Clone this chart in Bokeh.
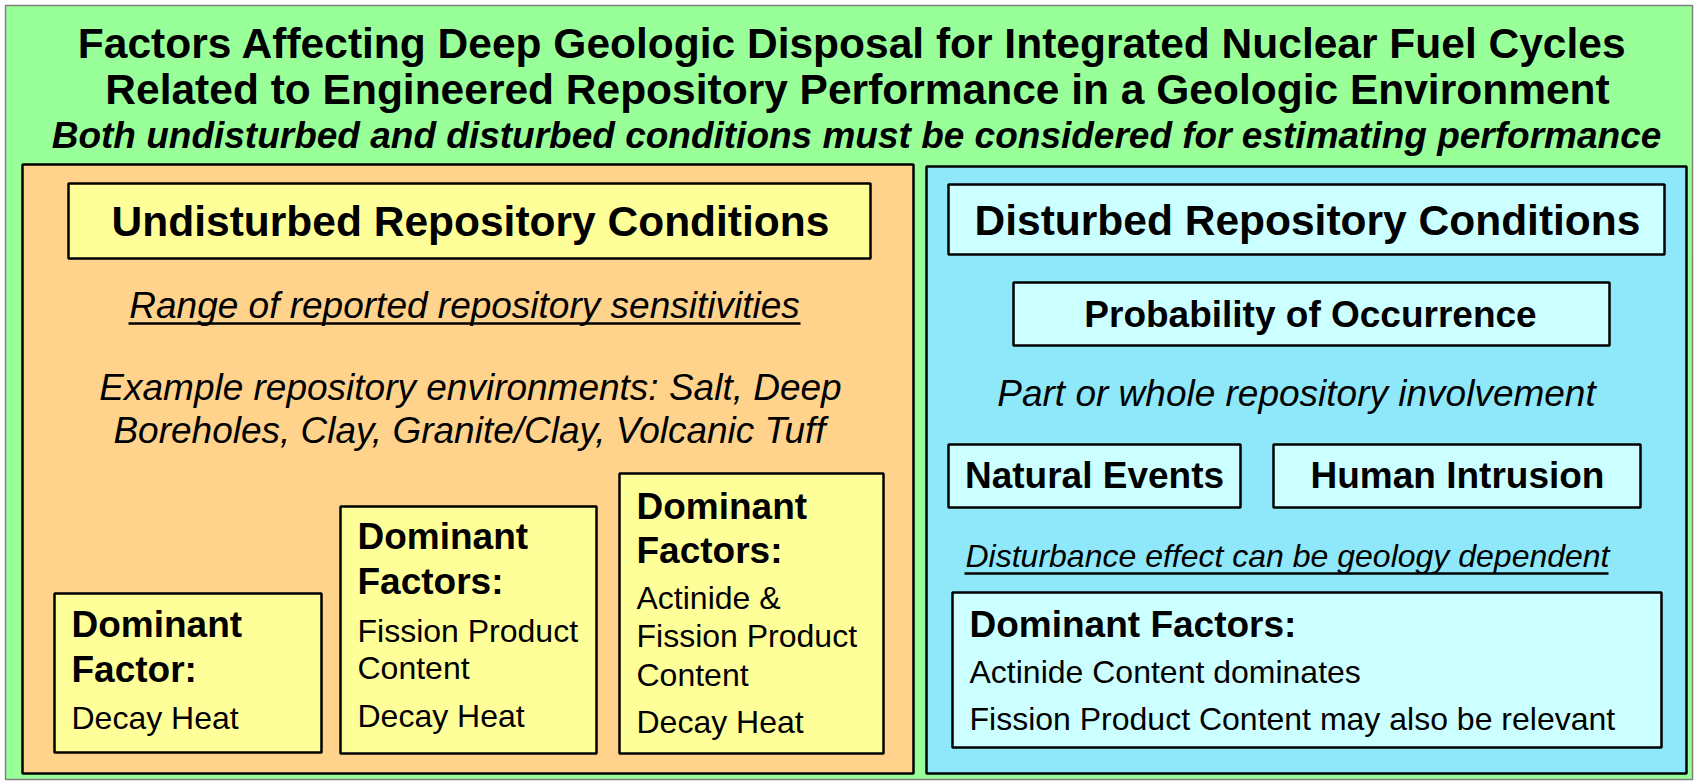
from bokeh.plotting import figure
from bokeh.models import Range1d, ColumnDataSource
from bokeh.core.properties import value
from bokeh.embed import file_html
from bokeh.resources import INLINE

FONT = "Liberation Sans"

# ---------------- colours ----------------
GREEN = "#99FF99"
ORANGE = "#FFD38C"
YELLOW = "#FFFF99"
BLUE = "#8EE8FA"
CYAN = "#CCFFFF"

# ---------------- diagram content ----------------
title_lines = [
    "Factors Affecting Deep Geologic Disposal for Integrated Nuclear Fuel Cycles",
    "Related to Engineered Repository Performance in a Geologic Environment",
]
subtitle = "Both undisturbed and disturbed conditions must be considered for estimating performance"

undisturbed_header = "Undisturbed Repository Conditions"
undisturbed_notes = ["Range of reported repository sensitivities"]
undisturbed_examples = [
    "Example repository environments: Salt, Deep",
    "Boreholes, Clay, Granite/Clay, Volcanic Tuff",
]
box1_head = ["Dominant", "Factor:"]
box1_items = ["Decay Heat"]
box2_head = ["Dominant", "Factors:"]
box2_items = ["Fission Product", "Content", "Decay Heat"]
box3_head = ["Dominant", "Factors:"]
box3_items = ["Actinide &", "Fission Product", "Content", "Decay Heat"]

disturbed_header = "Disturbed Repository Conditions"
disturbed_boxes = ["Probability of Occurrence", "Natural Events", "Human Intrusion"]
disturbed_note = "Part or whole repository involvement"
disturbed_dep = "Disturbance effect can be geology dependent"
disturbed_head = ["Dominant Factors:"]
disturbed_items = ["Actinide Content dominates", "Fission Product Content may also be relevant"]

# ---------------- layout (page pixels) ----------------
outer = dict(l=5, r=1692, t=5, b=779)

panel_l = [22, 926]
panel_r = [913, 1686]
panel_t = [164, 166]
panel_b = [773, 773]
panel_c = [ORANGE, BLUE]

ybox_l = [68, 54, 340, 619]
ybox_r = [870, 321, 596, 883]
ybox_t = [183, 593, 506, 473]
ybox_b = [258, 752, 753, 753]

cbox_l = [948, 1013, 948, 1273, 952]
cbox_r = [1664, 1609, 1240, 1640, 1661]
cbox_t = [184, 282, 444, 444, 592]
cbox_b = [254, 345, 507, 507, 747]

BASE_SHIFT = -12  # renderer places alphabetic baseline lower than requested

p = figure(width=1696, height=781,
           x_range=Range1d(0, 1696), y_range=Range1d(781, 0),
           output_backend="svg", toolbar_location=None, min_border=0)
p.axis.visible = False
p.grid.visible = False
p.outline_line_color = None
p.background_fill_color = "white"
p.border_fill_color = "white"

p.quad(left=[outer["l"]], right=[outer["r"]], top=[outer["t"]], bottom=[outer["b"]],
       fill_color=GREEN, line_color="#808080", line_width=1.5)
p.quad(left=panel_l, right=panel_r, top=panel_t, bottom=panel_b,
       fill_color=panel_c, line_color="black", line_width=2.5)
p.quad(left=ybox_l, right=ybox_r, top=ybox_t, bottom=ybox_b,
       fill_color=YELLOW, line_color="black", line_width=2.5)
p.quad(left=cbox_l, right=cbox_r, top=cbox_t, bottom=cbox_b,
       fill_color=CYAN, line_color="black", line_width=2.5)


def add_text(xs, ys, texts, sizes, style, align):
    src = ColumnDataSource(dict(x=xs, y=[y + BASE_SHIFT for y in ys], t=texts,
                                s=[f"{s}px" for s in sizes]))
    p.text(x="x", y="y", text="t", source=src, text_font=value(FONT),
           text_font_size="s", text_font_style=style, text_align=align,
           text_baseline="alphabetic", text_color="black")


# bold centred titles
add_text([852, 857, 470, 1307],
         [55, 101, 233, 232],
         title_lines + [undisturbed_header, disturbed_header],
         [42.5, 42.5, 42.5, 42.5], "bold", "center")

# bold italic subtitle
add_text([856], [147], [subtitle], [37], "bold italic", "center")

# bold centred box labels (disturbed side)
add_text([1310, 1094, 1457], [326, 487, 487], disturbed_boxes,
         [37, 37, 37], "bold", "center")

# bold left headings in the factor boxes
head_x = [71, 71, 357, 357, 636, 636, 969]
head_y = [636, 681, 548, 593, 518, 562, 636]
heads = box1_head + box2_head + box3_head + disturbed_head
add_text(head_x, head_y, heads, [37] * len(heads), "bold", "left")

# regular left items
item_x = [71, 357, 357, 357, 636, 636, 636, 636, 969, 969]
item_y = [729, 642, 679, 727, 609, 647, 686, 733, 683, 730]
items = box1_items + box2_items + box3_items + disturbed_items
add_text(item_x, item_y, items, [32] * len(items), "normal", "left")

# italic centred notes
add_text([464, 470, 469, 1296, 1287],
         [317, 399, 442, 405, 567],
         undisturbed_notes + undisturbed_examples + [disturbed_note, disturbed_dep],
         [37, 37, 37, 37, 32], "italic", "center")

# underlines
p.segment(x0=[128, 964], x1=[800, 1608], y0=[323, 573], y1=[323, 573],
          line_color="black", line_width=2.5)

open("out.html", "w").write(file_html(p, INLINE))
